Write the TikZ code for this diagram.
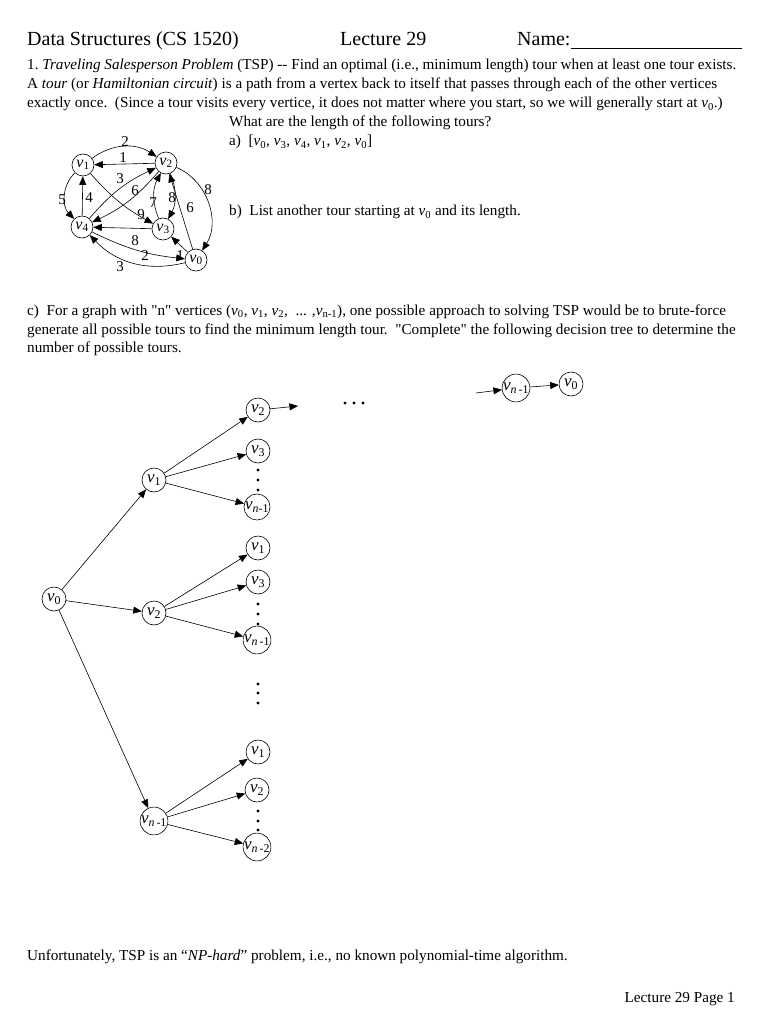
\documentclass[tikz,border=0pt]{standalone}
\usepackage{fontspec}
\setmainfont{Liberation Serif}
\usetikzlibrary{arrows.meta}
\newcommand\vsub[1]{\textit{v}\textsubscript{#1}}
\begin{document}
\begin{tikzpicture}[x=1pt,y=-1pt,
  txt/.style={anchor=base west,inner sep=0pt,font=\fontsize{15.2}{19}\selectfont},
  head/.style={anchor=base west,inner sep=0pt,font=\fontsize{20}{24}\selectfont},
  gnode/.style={circle,draw,line width=0.6pt,minimum size=22pt,inner sep=0pt,font=\fontsize{16}{16}\selectfont},
  tnode/.style={circle,draw,line width=0.6pt,minimum size=24pt,inner sep=0pt,font=\fontsize{17}{17}\selectfont},
  arr/.style={-{Triangle[length=8.5pt,width=7pt]},line width=0.6pt},
  elab/.style={inner sep=0pt,font=\fontsize{15}{15}\selectfont},
  dot/.style={circle,fill,inner sep=0pt,minimum size=3.4pt}
]
\path[use as bounding box] (0,0) rectangle (770,1024);

% header
\node[head] (h1) at (27,46) {Data Structures (CS 1520)};
\node[head] (h2) at (340,46) {Lecture 29};
\node[head] (h3) at (517,46) {Name:};
\coordinate (hend) at (742,48);
\draw[line width=0.8pt] (h3.base east) ++(0,2) -- (hend);

% paragraph
\node[txt] (p1) at (27,70) {1.\ \textit{Traveling Salesperson Problem} (TSP) -{}- Find an optimal (i.e., minimum length) tour when at least one tour exists.};
\node[txt] (p2) at (27,89) {A \textit{tour} (or \textit{Hamiltonian circuit}) is a path from a vertex back to itself that passes through each of the other vertices};
\node[txt] (p3) at (27,108) {exactly once.\ \ (Since a tour visits every vertice, it does not matter where you start, so we will generally start at \vsub{0}.)};
\node[txt] (p4) at (229,127) {What are the length of the following tours?};
\node[txt] (p5) at (229,146) {a)\ \ [\vsub{0}, \vsub{3}, \vsub{4}, \vsub{1}, \vsub{2}, \vsub{0}]};
\node[txt] (p6) at (229,216) {b)\ \ List another tour starting at \vsub{0} and its length.};
\node[txt] (c1) at (27,315) {c)\ \ For a graph with \textquotedbl n\textquotedbl\ vertices (\vsub{0}, \vsub{1}, \vsub{2}, \ ... ,\vsub{n-1}), one possible approach to solving TSP would be to brute-force};
\node[txt] (c2) at (27,334) {generate all possible tours to find the minimum length tour.\ \ \textquotedbl Complete\textquotedbl\ the following decision tree to determine the};
\node[txt] (c3) at (27,352) {number of possible tours.};
\node[txt] (u1) at (27,960) {Unfortunately, TSP is an ``\textit{NP-hard}'' problem, i.e., no known polynomial-time algorithm.};
\node[txt,anchor=base east] (pg) at (735,1002) {Lecture 29 Page 1};

% graph
\node[gnode] (g1) at (83,165) {\vsub{1}};
\node[gnode] (g2) at (166,163) {\vsub{2}};
\node[gnode] (g4) at (82,227) {\vsub{4}};
\node[gnode] (g3) at (163,229) {\vsub{3}};
\node[gnode] (g0) at (196,260) {\vsub{0}};

\draw[arr] (g1) to[bend left=35] (g2);
\draw[arr] (g2) -- (g1);
\draw[arr] (g4) to[bend left=12] (g2);
\draw[arr] (g2) to[bend left=12] (g4);
\draw[arr] (g4) -- (g1);
\draw[arr] (g1) to[bend right=45] (g4);
\draw[arr] (g1) to[bend right=10] (g3);
\draw[arr] (g3) -- (g4);
\draw[arr] (g3) to[bend left=25] (g2);
\draw[arr] (g2) to[bend left=25] (g3);
\draw[arr] (g0) -- (g2);
\draw[arr] (g2) to[bend left=50] (g0);
\draw[arr] (g0) -- (g3);
\draw[arr] (g4) to[bend right=10] (g0);
\draw[arr] (g0) to[bend left=30] (g4);

\node[elab] (l12) at (125,142) {2};
\node[elab] (l21) at (123,158) {1};
\node[elab] (l42) at (120,179) {3};
\node[elab] (l24) at (135,191) {6};
\node[elab] (l14) at (62,200) {5};
\node[elab] (l41) at (89,198) {4};
\node[elab] (l13) at (141,215) {9};
\node[elab] (l32) at (153,203) {7};
\node[elab] (l23) at (172,198) {8};
\node[elab] (l20) at (208,190) {8};
\node[elab] (l02) at (190,208) {6};
\node[elab] (l34) at (135,241) {8};
\node[elab] (l40) at (145,256) {2};
\node[elab] (l03) at (180,256) {1};
\node[elab] (l04) at (120,267) {3};

% tree
\node[tnode] (t0) at (54,599) {\vsub{0}};
\node[tnode] (t1) at (154,480) {\vsub{1}};
\node[tnode] (t2) at (154,613) {\vsub{2}};
\node[tnode] (tn) at (154,821) {\vsub{\textit{n}\,-1}};

\node[tnode] (a1) at (258,410) {\vsub{2}};
\node[tnode] (a2) at (258,451) {\vsub{3}};
\node[tnode] (a3) at (257,507) {\vsub{\textit{n}-1}};
\node[tnode] (b1) at (258,548) {\vsub{1}};
\node[tnode] (b2) at (258,582) {\vsub{3}};
\node[tnode] (b3) at (257,640) {\vsub{\textit{n}\,-1}};
\node[tnode] (d1) at (258,752) {\vsub{1}};
\node[tnode] (d2) at (257,790) {\vsub{2}};
\node[tnode] (d3) at (257,847) {\vsub{\textit{n}\,-2}};

\draw[arr] (t0) -- (t1);
\draw[arr] (t0) -- (t2);
\draw[arr] (t0) -- (tn);
\draw[arr] (t1) -- (a1);
\draw[arr] (t1) -- (a2);
\draw[arr] (t1) -- (a3);
\draw[arr] (t2) -- (b1);
\draw[arr] (t2) -- (b2);
\draw[arr] (t2) -- (b3);
\draw[arr] (tn) -- (d1);
\draw[arr] (tn) -- (d2);
\draw[arr] (tn) -- (d3);

\coordinate (aout) at (298,406);
\draw[arr] (a1) -- (aout);

\foreach \y [count=\i] in {470,480,490} \node[dot] (da\i) at (258,\y) {};
\foreach \y [count=\i] in {604,614,624} \node[dot] (db\i) at (258,\y) {};
\foreach \y [count=\i] in {684,693,703} \node[dot] (dm\i) at (258,\y) {};
\foreach \y [count=\i] in {811,821,830} \node[dot] (dd\i) at (258,\y) {};
\foreach \x [count=\i] in {345,354,363} \node[dot] (dh\i) at (\x,403) {};

% top right
\coordinate (rin) at (476,393);
\node[tnode] (r1) at (516,388) {\vsub{\textit{n}\,-1}};
\node[tnode] (r0) at (571,384) {\vsub{0}};
\draw[arr] (rin) -- (r1);
\draw[arr] (r1) -- (r0);
\end{tikzpicture}
\end{document}
